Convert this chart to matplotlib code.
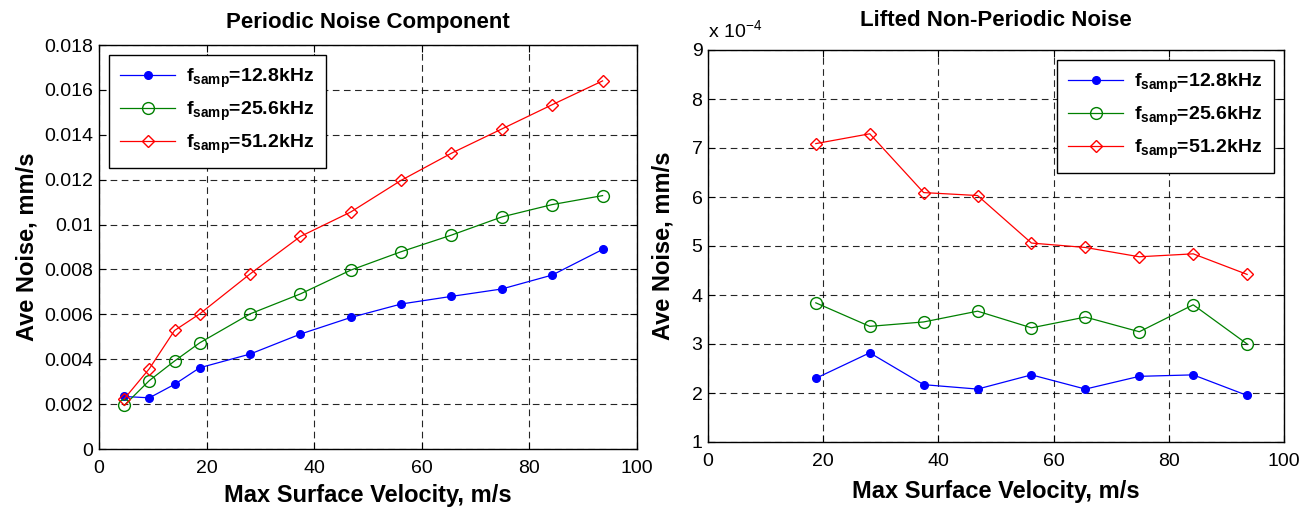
import numpy as np
import matplotlib
matplotlib.use('Agg')
import matplotlib.pyplot as plt
from matplotlib.ticker import FuncFormatter

plt.rcParams['font.family'] = ['Liberation Sans', 'DejaVu Sans']
plt.rcParams['mathtext.fontset'] = 'custom'
plt.rcParams['mathtext.rm'] = 'Liberation Sans'
plt.rcParams['mathtext.bf'] = 'Liberation Sans:bold'

# ---- data
fs_labels = ['12.8', '25.6', '51.2']

vel_periodic = [4.68, 9.36, 14.04, 18.72, 28.08, 37.44, 46.8, 56.16, 65.52, 74.88, 84.24, 93.6]
per_128 = [0.00234, 0.00228, 0.00288, 0.00362, 0.00423, 0.00512, 0.00586, 0.00646, 0.00680, 0.00713, 0.00775, 0.00889]
per_256 = [0.00194, 0.00305, 0.00392, 0.00473, 0.00602, 0.00691, 0.00797, 0.00879, 0.00953, 0.01034, 0.01089, 0.01129]
per_512 = [0.00223, 0.00358, 0.00528, 0.00602, 0.00780, 0.00947, 0.01056, 0.01197, 0.01318, 0.01426, 0.01534, 0.01640]

vel_lifted = [18.72, 28.08, 37.44, 46.8, 56.16, 65.52, 74.88, 84.24, 93.6]
lift_128 = [2.30e-4, 2.82e-4, 2.17e-4, 2.08e-4, 2.37e-4, 2.08e-4, 2.34e-4, 2.37e-4, 1.95e-4]
lift_256 = [3.84e-4, 3.36e-4, 3.45e-4, 3.67e-4, 3.33e-4, 3.55e-4, 3.25e-4, 3.80e-4, 3.00e-4]
lift_512 = [7.09e-4, 7.29e-4, 6.09e-4, 6.03e-4, 5.06e-4, 4.97e-4, 4.78e-4, 4.84e-4, 4.42e-4]

styles = [dict(color='blue', marker='o', ms=5.5, mfc='blue', mec='blue'),
          dict(color='#008000', marker='o', ms=8.5, mfc='none', mec='#008000'),
          dict(color='red', marker='D', ms=6, mfc='none', mec='red')]

fig = plt.figure(figsize=(13.15, 5.08), dpi=100)
W, H = 1315., 508.
ax1 = fig.add_axes([99/W, 1-449/H, (637-99)/W, (449-45)/H])
ax2 = fig.add_axes([708/W, 1-442/H, (1284-708)/W, (442-50)/H])


def style_axes(ax):
    ax.grid(True, color='black', ls=(0, (6, 4)), lw=0.8, alpha=0.85)
    ax.set_axisbelow(True)
    ax.tick_params(direction='in', top=True, right=True, length=5, width=0.8,
                   labelsize=14)
    ax.tick_params(axis='x', pad=8)
    ax.tick_params(axis='y', pad=4)
    for s in ax.spines.values():
        s.set_linewidth(1.0)


def make_legend(ax, loc):
    leg = ax.legend(loc=loc, fancybox=False, framealpha=1,
                    edgecolor='black', handlelength=2.8, labelspacing=0.5,
                    borderpad=0.6, handletextpad=0.6,
                    prop={'weight': 'bold', 'size': 14})
    leg.get_frame().set_linewidth(1.0)
    return leg


# ---- left: periodic noise
for y, lab, st in zip([per_128, per_256, per_512], fs_labels, styles):
    ax1.plot(vel_periodic, y, lw=0.9, label=r'f$_{\mathbf{samp}}$=' + lab + 'kHz', **st)
ax1.set_xlim(0, 100)
ax1.set_ylim(0, 0.018)
ax1.set_xticks(np.arange(0, 101, 20))
ax1.set_yticks(np.arange(0, 0.0181, 0.002))
ax1.yaxis.set_major_formatter(FuncFormatter(lambda v, p: '0' if v == 0 else ('%.3f' % v).rstrip('0')))
style_axes(ax1)
ax1.set_title('Periodic Noise Component', fontsize=16, fontweight='bold', pad=12)
ax1.set_xlabel('Max Surface Velocity, m/s', fontsize=17, fontweight='bold', labelpad=5)
ax1.set_ylabel('Ave Noise, mm/s', fontsize=17, fontweight='bold', labelpad=4)
make_legend(ax1, 'upper left')

# ---- right: lifted non-periodic noise
for y, lab, st in zip([lift_128, lift_256, lift_512], fs_labels, styles):
    ax2.plot(vel_lifted, y, lw=0.9, label=r'f$_{\mathbf{samp}}$=' + lab + 'kHz', **st)
ax2.set_xlim(0, 100)
ax2.set_ylim(1e-4, 9e-4)
ax2.set_xticks(np.arange(0, 101, 20))
ax2.set_yticks(np.arange(1, 10) * 1e-4)
ax2.yaxis.set_major_formatter(FuncFormatter(lambda v, p: '%d' % round(v * 1e4)))
style_axes(ax2)
ax2.set_title('Lifted Non-Periodic Noise', fontsize=16, fontweight='bold', pad=17)
ax2.set_xlabel('Max Surface Velocity, m/s', fontsize=17, fontweight='bold', labelpad=7)
ax2.set_ylabel('Ave Noise, mm/s', fontsize=17, fontweight='bold')
ax2.yaxis.set_label_coords(-0.058, 0.5)
ax2.text(0.0, 1.02, r'x 10$^{-4}$', transform=ax2.transAxes, fontsize=14, ha='left', va='bottom')
make_legend(ax2, 'upper right')

fig.savefig('out.png', dpi=100)
